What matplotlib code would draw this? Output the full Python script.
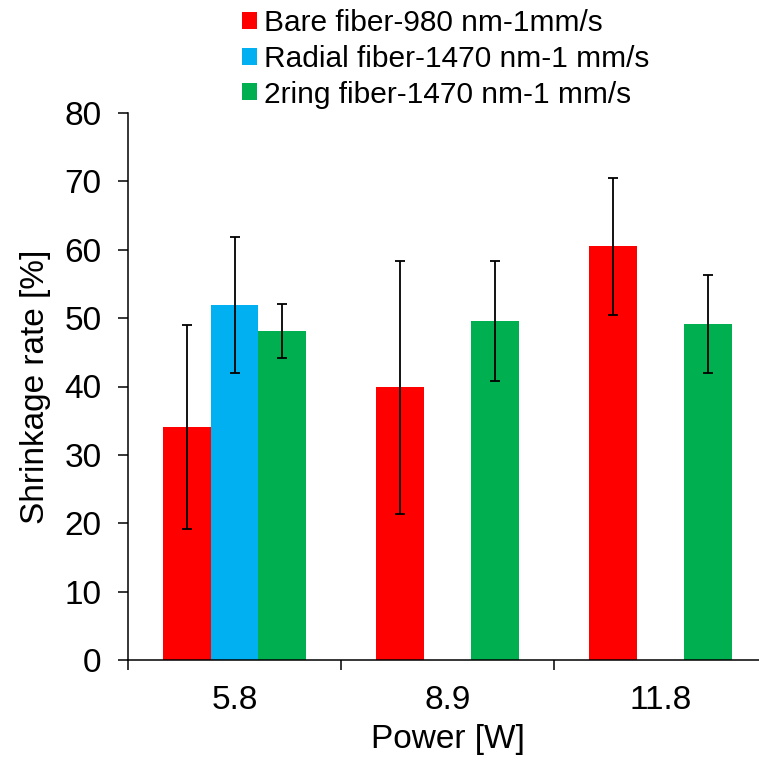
import matplotlib
matplotlib.use('Agg')
import matplotlib.pyplot as plt
import numpy as np
plt.rcParams['font.family'] = ['Liberation Sans', 'DejaVu Sans']

powers = ['5.8', '8.9', '11.8']
series = ['Bare fiber-980 nm-1mm/s', 'Radial fiber-1470 nm-1 mm/s', '2ring fiber-1470 nm-1 mm/s']
bare = [34.1, 39.9, 60.5]
bare_err = [14.9, 18.5, 10.0]
radial = [51.9, np.nan, np.nan]
radial_err = [9.9, np.nan, np.nan]
ring = [48.1, 49.6, 49.1]
ring_err = [4.0, 8.75, 7.15]
colors = ['#FF0000', '#00B0F0', '#00B050']

fig = plt.figure(figsize=(7.59, 7.65), dpi=100)
ax = fig.add_axes([128/759, 1-660/765, 639/759, 547/765])

x = np.arange(len(powers))
w = 0.223
for i, (vals, errs) in enumerate([(bare, bare_err), (radial, radial_err), (ring, ring_err)]):
    ax.bar(x + (i - 1) * w, vals, w, color=colors[i], label=series[i],
           yerr=errs, error_kw=dict(ecolor='black', elinewidth=1.3, capsize=3.4, capthick=1.3))

ax.set_xlim(-0.5, 2.5)
ax.set_ylim(0, 80)
ax.set_yticks(np.arange(0, 81, 10))
ax.set_xticks(x)
ax.set_xticklabels(powers)
ax.set_xticks([-0.5, 0.5, 1.5, 2.5], minor=True)
ax.tick_params(axis='x', which='major', length=0, pad=18, labelsize=24)
ax.tick_params(axis='x', which='minor', length=7, width=1.1, direction='out')
ax.tick_params(axis='y', length=7, width=1.1, pad=12, labelsize=24)
for s in ['top', 'right']:
    ax.spines[s].set_visible(False)
for s in ['left', 'bottom']:
    ax.spines[s].set_linewidth(1.1)
ax.set_xlabel('Power [W]', fontsize=24, labelpad=6)
ax.set_ylabel('Shrinkage rate [%]', fontsize=24, labelpad=10)

fig.legend(loc='upper left', bbox_to_anchor=(242/759, 1-9/765), frameon=False, fontsize=21.5,
           borderpad=0, borderaxespad=0, handlelength=0.5, handleheight=0.5,
           handletextpad=0.22, labelspacing=0.26)

fig.savefig('out.png', dpi=100)
